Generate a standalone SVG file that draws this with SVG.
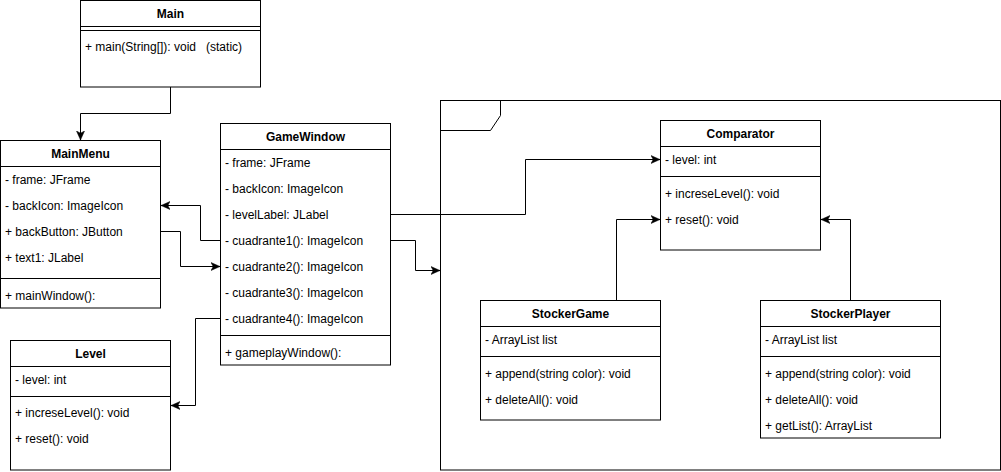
<svg xmlns="http://www.w3.org/2000/svg" width="1001" height="472" viewBox="0 0 1001 472">
<style>
.box{fill:#fff;stroke:#000;stroke-width:1}
.ln{fill:none;stroke:#000;stroke-width:1}
.t{font-family:"Liberation Sans",Arial,Helvetica,sans-serif;font-size:12px;fill:#000;white-space:pre}
.h{font-family:"Liberation Sans",Arial,Helvetica,sans-serif;font-size:12px;font-weight:bold;fill:#000;text-anchor:middle}
.c{fill:none;stroke:#000;stroke-width:1;marker-end:url(#arr)}
</style>
<defs>
<marker id="arr" markerUnits="userSpaceOnUse" markerWidth="10" markerHeight="10" refX="9" refY="4" orient="auto" viewBox="0 0 10 8">
<path d="M0,0 L9,4 L0,8 L2.2,4 Z" fill="#000" stroke="#000" stroke-width="0.5"/>
</marker>
</defs>
<rect width="1001" height="472" fill="#fff"/>

<g id="package">
<rect class="box" x="440.5" y="100.5" width="560" height="369.5" fill="none"/>
<path class="ln" d="M440.5,130.5 L490.5,130.5 L500.5,115.5 L500.5,100.5"/>
</g>

<g id="Main">
<rect class="box" x="80.5" y="0.5" width="180" height="86.5"/>
<line class="ln" x1="80.5" y1="26.5" x2="260.5" y2="26.5"/>
<line class="ln" x1="80.5" y1="30.5" x2="260.5" y2="30.5"/>
<text class="h" x="170.5" y="18">Main</text>
<text class="t" x="85" y="51" xml:space="preserve">+ main(String[]): void   (static)</text>
</g>

<g id="MainMenu">
<rect class="box" x="0.5" y="140.5" width="160" height="167.5"/>
<line class="ln" x1="0.5" y1="166.5" x2="160.5" y2="166.5"/>
<line class="ln" x1="0.5" y1="278.5" x2="160.5" y2="278.5"/>
<text class="h" x="80.5" y="158">MainMenu</text>
<text class="t" x="5" y="184">- frame: JFrame</text>
<text class="t" x="5" y="210">- backIcon: ImageIcon</text>
<text class="t" x="5" y="236">+ backButton: JButton</text>
<text class="t" x="5" y="262">+ text1: JLabel</text>
<text class="t" x="5" y="300">+ mainWindow():</text>
</g>

<g id="GameWindow">
<rect class="box" x="220.5" y="123.5" width="170" height="241.5"/>
<line class="ln" x1="220.5" y1="149.5" x2="390.5" y2="149.5"/>
<line class="ln" x1="220.5" y1="335.5" x2="390.5" y2="335.5"/>
<text class="h" x="305.5" y="141">GameWindow</text>
<text class="t" x="225" y="167">- frame: JFrame</text>
<text class="t" x="225" y="193">- backIcon: ImageIcon</text>
<text class="t" x="225" y="219">- levelLabel: JLabel</text>
<text class="t" x="225" y="245">- cuadrante1(): ImageIcon</text>
<text class="t" x="225" y="271">- cuadrante2(): ImageIcon</text>
<text class="t" x="225" y="297">- cuadrante3(): ImageIcon</text>
<text class="t" x="225" y="323">- cuadrante4(): ImageIcon</text>
<text class="t" x="225" y="357">+ gameplayWindow():</text>
</g>

<g id="Level">
<rect class="box" x="10.5" y="340.5" width="160" height="129.5"/>
<line class="ln" x1="10.5" y1="366.5" x2="170.5" y2="366.5"/>
<line class="ln" x1="10.5" y1="396.5" x2="170.5" y2="396.5"/>
<text class="h" x="90.5" y="358">Level</text>
<text class="t" x="15" y="384">- level: int</text>
<text class="t" x="15" y="417">+ increseLevel(): void</text>
<text class="t" x="15" y="443">+ reset(): void</text>
</g>

<g id="Comparator">
<rect class="box" x="660.5" y="120.5" width="160" height="129.5"/>
<line class="ln" x1="660.5" y1="146.5" x2="820.5" y2="146.5"/>
<line class="ln" x1="660.5" y1="176.5" x2="820.5" y2="176.5"/>
<text class="h" x="740.5" y="138">Comparator</text>
<text class="t" x="665" y="164">- level: int</text>
<text class="t" x="665" y="198">+ increseLevel(): void</text>
<text class="t" x="665" y="224">+ reset(): void</text>
</g>

<g id="StockerGame">
<rect class="box" x="480.5" y="300.5" width="180" height="119.5"/>
<line class="ln" x1="480.5" y1="326.5" x2="660.5" y2="326.5"/>
<line class="ln" x1="480.5" y1="356.5" x2="660.5" y2="356.5"/>
<text class="h" x="570.5" y="318">StockerGame</text>
<text class="t" x="485" y="344">- ArrayList list</text>
<text class="t" x="485" y="378">+ append(string color): void</text>
<text class="t" x="485" y="404">+ deleteAll(): void</text>
</g>

<g id="StockerPlayer">
<rect class="box" x="760.5" y="300.5" width="180" height="137.5"/>
<line class="ln" x1="760.5" y1="326.5" x2="940.5" y2="326.5"/>
<line class="ln" x1="760.5" y1="356.5" x2="940.5" y2="356.5"/>
<text class="h" x="850.5" y="318">StockerPlayer</text>
<text class="t" x="765" y="344">- ArrayList list</text>
<text class="t" x="765" y="378">+ append(string color): void</text>
<text class="t" x="765" y="404">+ deleteAll(): void</text>
<text class="t" x="765" y="430">+ getList(): ArrayList</text>
</g>

<g id="connectors">
<path class="c" d="M170.5,87 L170.5,113.5 L80.5,113.5 L80.5,140"/>
<path class="c" d="M220,240.5 L200.5,240.5 L200.5,205.5 L161,205.5"/>
<path class="c" d="M160,231.5 L180.5,231.5 L180.5,266.5 L220,266.5"/>
<path class="c" d="M220,318.5 L195.5,318.5 L195.5,405.5 L171,405.5"/>
<path class="c" d="M390,214.5 L525.5,214.5 L525.5,159.5 L660,159.5"/>
<path class="c" d="M390,240.5 L415.5,240.5 L415.5,270.5 L440,270.5"/>
<path class="c" d="M616.5,300 L616.5,219.5 L660,219.5"/>
<path class="c" d="M850.5,300 L850.5,219.5 L821,219.5"/>
</g>
</svg>
